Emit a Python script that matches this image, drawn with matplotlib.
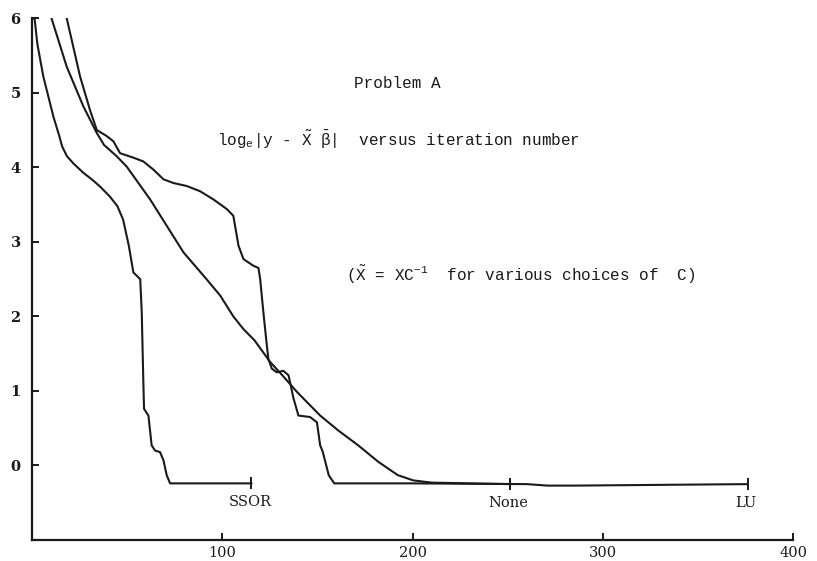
import matplotlib
matplotlib.use("Agg")
import matplotlib.pyplot as plt

# ---- data ----
ssor_x = [0, 1.5, 3, 6.1, 11.4, 14.5, 16, 18.5, 22, 27, 32, 36, 41, 45, 48, 51, 53.4, 57, 57.8, 58.6, 59, 61.3, 63, 64.8, 67.4, 69.2, 70.9, 72.7, 115.4]
ssor_y = [6.0, 6.0, 5.65, 5.22, 4.68, 4.42, 4.28, 4.15, 4.05, 3.93, 3.83, 3.74, 3.61, 3.48, 3.30, 2.95, 2.59, 2.5, 2.05, 1.16, 0.76, 0.67, 0.27, 0.2, 0.18, 0.07, -0.13, -0.24, -0.24]

none_x = [10.4, 18.4, 27.1, 34.2, 38, 44.6, 49.9, 62.2, 79.7, 91.8, 99, 105.9, 111.2, 117, 125.2, 132, 139.2, 151.5, 161, 171.5, 182, 192.3, 200.4, 210, 230, 251]
none_y = [6.0, 5.35, 4.82, 4.46, 4.30, 4.15, 4.01, 3.57, 2.86, 2.5, 2.28, 2.0, 1.83, 1.68, 1.39, 1.2, 0.99, 0.67, 0.47, 0.27, 0.05, -0.13, -0.2, -0.23, -0.24, -0.25]

lu_x = [18.4, 25.4, 30.6, 34.2, 39.4, 42.9, 46.4, 53.4, 58.6, 63.9, 69.2, 74.4, 81.4, 88.4, 95.4, 102.5, 105.9, 108.6, 111.2, 116.4, 119.1, 120, 121.7, 123.5, 124.3, 126.1, 128.7, 132.2, 134.9, 137.5, 140.1, 146.2, 149.8, 151.5, 152.8, 156, 158.9, 200, 260, 271, 285, 330, 376]
lu_y = [6.0, 5.22, 4.77, 4.5, 4.42, 4.35, 4.19, 4.13, 4.08, 3.97, 3.84, 3.79, 3.75, 3.68, 3.57, 3.44, 3.35, 2.95, 2.77, 2.68, 2.65, 2.5, 2.05, 1.61, 1.43, 1.30, 1.25, 1.27, 1.21, 0.90, 0.67, 0.65, 0.58, 0.27, 0.19, -0.13, -0.24, -0.24, -0.25, -0.27, -0.27, -0.26, -0.25]

curve_labels = ["SSOR", "None", "LU"]
x_ticks = [100, 200, 300, 400]
y_ticks = [0, 1, 2, 3, 4, 5, 6]

# ---- figure ----
plt.rcParams['mathtext.fontset'] = 'custom'
plt.rcParams['mathtext.rm'] = 'Liberation Mono'
plt.rcParams['mathtext.it'] = 'Liberation Mono'
plt.rcParams['mathtext.bf'] = 'Liberation Mono:bold'

fig = plt.figure(figsize=(8.17, 5.61), dpi=100)
ax = fig.add_axes([0.0388, 0.0374, 0.9322, 0.9300])
ax.set_xlim(0, 400)
ax.set_ylim(-1, 6)

for xs, ys in [(ssor_x, ssor_y), (none_x, none_y), (lu_x, lu_y)]:
    ax.plot(xs, ys, color='#1a1a1a', lw=1.5, solid_joinstyle='round',
            marker='|', markevery=[len(xs) - 1], markersize=9, markeredgewidth=1.4,
            clip_on=True)

for xs, ys, lab in zip([ssor_x, none_x, lu_x], [ssor_y, none_y, lu_y], curve_labels):
    ax.annotate(lab, xy=(xs[-1], ys[-1]), xytext=(-1, -13.5), textcoords='offset points',
                ha='center', va='center', fontsize=10.5, family='DejaVu Serif',
                color='#1a1a1a')

ax.spines['top'].set_visible(False)
ax.spines['right'].set_visible(False)
for s in ['left', 'bottom']:
    ax.spines[s].set_linewidth(1.6)
    ax.spines[s].set_color('#1a1a1a')

ax.set_xticks(x_ticks)
ax.set_yticks(y_ticks)
ax.tick_params(axis='x', direction='in', length=5, width=1.4, pad=4, labelsize=10.5, colors='#1a1a1a')
ax.tick_params(axis='y', direction='in', length=5, width=1.4, pad=8, labelsize=10.5, colors='#1a1a1a')
for t in ax.get_xticklabels():
    t.set_family('DejaVu Serif')
for t in ax.get_yticklabels():
    t.set_family('DejaVu Serif')
    t.set_fontweight('bold')

mono = 'Liberation Mono'
fig.text(0.486, 0.852, 'Problem A', ha='center', va='center',
         family=mono, fontsize=11.5, color='#1a1a1a')
fig.text(0.266, 0.750, r'log$_{\mathrm{e}}$|y - $\tilde{\mathrm{X}}$ $\bar{\beta}$|  versus iteration number',
         ha='left', va='center', family=mono, fontsize=11.5, color='#1a1a1a')
fig.text(0.424, 0.510, r'($\tilde{\mathrm{X}}$ = XC$^{-1}$  for various choices of  C)',
         ha='left', va='center', family=mono, fontsize=11.5, color='#1a1a1a')

fig.savefig('out.png', dpi=100)
